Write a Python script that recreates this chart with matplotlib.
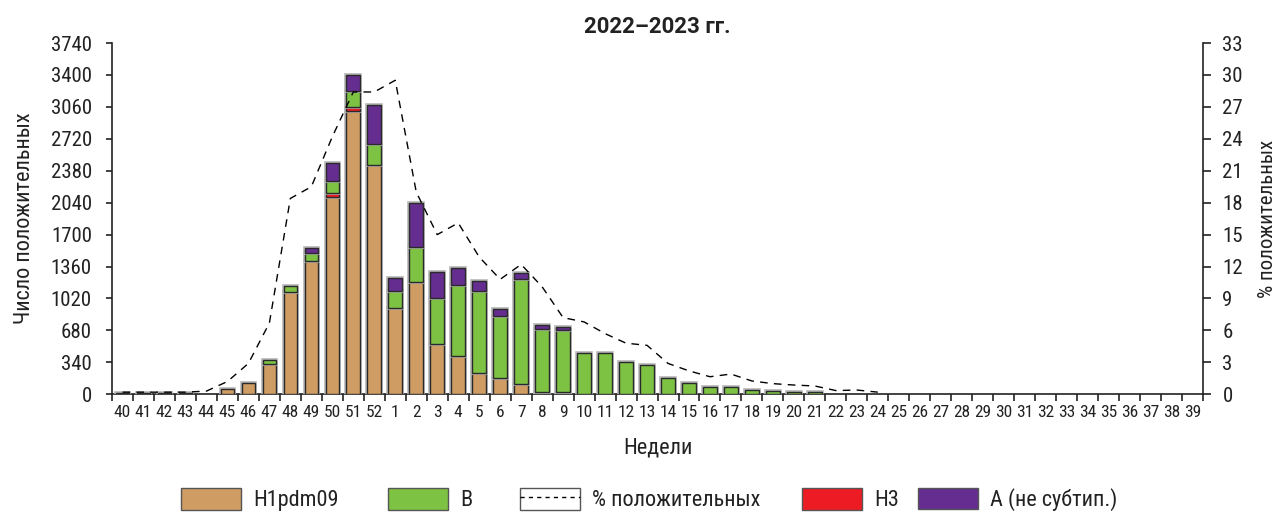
import numpy as np
import matplotlib
matplotlib.use("Agg")
import matplotlib.pyplot as plt
import matplotlib.patheffects as pe
from matplotlib.patches import Patch
from matplotlib.lines import Line2D
from matplotlib.legend_handler import HandlerTuple

plt.rcParams['font.family'] = ['Roboto Condensed', 'DejaVu Sans']

# Data
weeks = [str(w) for w in list(range(40, 53)) + list(range(1, 40))]

h1pdm09 = [15, 15, 15, 15, 0, 53, 117, 319, 1093, 1420, 2104, 3020, 2445,
           916, 1196, 532, 411, 224, 170, 110, 21, 20] + [0] * 30
h3 = [0] * 10 + [43, 36] + [0] * 40
b = [0] * 7 + [50, 60, 88, 128, 171, 217,
               187, 376, 497, 756, 879, 661, 1115, 674, 665, 443, 443, 344, 315,
               177, 120, 78, 78, 42, 35, 28, 21] + [0] * 18
a_nonsub = [0] * 9 + [50, 185, 170, 422,
                      132, 468, 273, 175, 107, 74, 64, 40, 35] + [0] * 30
pct_pos = [0.2, 0.2, 0.2, 0.2, 0.3, 1.2, 2.9, 6.7, 18.4, 19.5, 24.2, 28.4, 28.4,
           29.5, 19.0, 15.0, 16.1, 12.9, 10.8, 12.2, 10.1, 7.2, 6.8, 5.7, 4.8, 4.6,
           2.9, 2.2, 1.65, 1.9, 1.25, 1.0, 0.87, 0.78, 0.35, 0.4, 0.2] + [np.nan] * 15

# Colours
C_H1 = "#CF9C63"
C_B = "#7DC242"
C_H3 = "#ED1C24"
C_A = "#662D91"
INK = "#222222"

x = np.arange(len(weeks))
h1 = np.array(h1pdm09)
h3a = np.array(h3)
ba = np.array(b)
aa = np.array(a_nonsub)

fig = plt.figure(figsize=(12.76, 5.12), dpi=100)
ax = fig.add_axes([0.0878, 0.2299, 0.855, 0.6861])

halo = [pe.Stroke(linewidth=2.6, foreground="#b5b5b5"), pe.Normal()]
kw = dict(width=0.65, edgecolor="#2a2a2a", linewidth=1.0, zorder=3)

bars_h1 = ax.bar(x, h1, color=C_H1, **kw)
bars_h3 = ax.bar(x, h3a, bottom=h1, color=C_H3, **kw)
bars_b = ax.bar(x, ba, bottom=h1 + h3a, color=C_B, **kw)
bars_a = ax.bar(x, aa, bottom=h1 + h3a + ba, color=C_A, **kw)
for bars in (bars_h1, bars_h3, bars_b, bars_a):
    for p in bars:
        if p.get_height() > 0:
            p.set_path_effects(halo)
        else:
            p.set_visible(False)

ax.set_xlim(-0.5, len(weeks) - 0.5)
ax.set_ylim(0, 3740)
ax.set_yticks(np.arange(0, 3741, 340))
ax.set_xticks(x)
ax.set_xticklabels(weeks, fontsize=12.5)
ax.set_xticks(np.arange(-0.5, len(weeks), 1.0), minor=True)
ax.tick_params(axis="x", which="major", length=0, pad=8, colors=INK)
ax.tick_params(axis="x", which="minor", length=5, width=1.2, color=INK)
ax.tick_params(axis="y", length=4.5, width=1.2, pad=10, labelsize=15, colors=INK)
ax.spines["top"].set_visible(False)
ax.spines["right"].set_visible(False)
for s in ("left", "bottom"):
    ax.spines[s].set_linewidth(1.2)
    ax.spines[s].set_color(INK)

ax.set_ylabel("Число положительных", fontsize=16, color=INK)
ax.yaxis.set_label_coords(-0.0706, 0.5)
ax.set_xlabel("Недели", fontsize=16, color=INK)
ax.xaxis.set_label_coords(0.5, -0.122)
ax.set_title("2022–2023 гг.", fontsize=16, fontweight="bold",
             family=["Roboto", "DejaVu Sans"], color=INK, pad=7)

ax2 = ax.twinx()
ax2.set_ylim(0, 33)
ax2.set_yticks(np.arange(0, 34, 3))
line_pct, = ax2.plot(x, pct_pos, color="black", linestyle=(0, (5.5, 4.5)),
                     linewidth=1.0, zorder=4)
ax2.tick_params(axis="y", length=6, width=1.2, pad=8, labelsize=15, colors=INK)
ax2.spines["top"].set_visible(False)
ax2.spines["left"].set_visible(False)
ax2.spines["bottom"].set_visible(False)
ax2.spines["right"].set_linewidth(1.2)
ax2.spines["right"].set_color(INK)
ax2.set_ylabel("% положительных", fontsize=15, rotation=90, color=INK)
ax2.yaxis.set_label_coords(1.05, 0.5)

# Legend entries placed along the bottom
h_h1 = Patch(facecolor=C_H1, edgecolor="#555555")
h_b = Patch(facecolor=C_B, edgecolor="#555555")
h_pct = (Patch(facecolor="white", edgecolor="#555555"),
         Line2D([], [], color="black", linestyle=(0, (3, 3)), linewidth=1))
h_h3 = Patch(facecolor=C_H3, edgecolor="#555555")
h_a = Patch(facecolor=C_A, edgecolor="#555555")

LEG_FS = 16
em = LEG_FS * 100 / 72
entries = [(h_h1, "H1pdm09", 181), (h_b, "B", 388), (h_pct, "% положительных", 520),
           (h_h3, "H3", 802), (h_a, "A (не субтип.)", 918)]
for handle, label, px in entries:
    leg = fig.legend([handle], [label], loc="center left",
                     bbox_to_anchor=(px / 1276, 1 - 499.5 / 512),
                     frameon=False, fontsize=LEG_FS, handlelength=60 / em,
                     handleheight=25 / em, handletextpad=12 / em,
                     borderpad=0, borderaxespad=0,
                     handler_map={tuple: HandlerTuple(ndivide=1, pad=0)})
    for t in leg.get_texts():
        t.set_color(INK)

fig.savefig("out.png", dpi=100)
